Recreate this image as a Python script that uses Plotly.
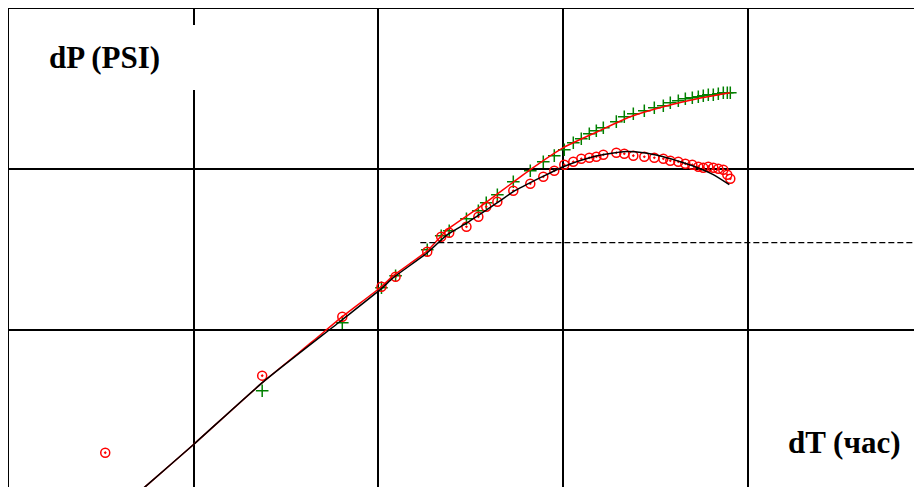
import plotly.graph_objects as go

# Observed times (hours)
t_obs = [0.00332, 0.0235, 0.0638, 0.104, 0.124, 0.184, 0.219, 0.242, 0.300, 0.348,
         0.384, 0.441, 0.538, 0.665, 0.782, 0.897, 1.016, 1.137, 1.256, 1.388,
         1.515, 1.653, 1.944, 2.147, 2.403, 2.756, 3.122, 3.493, 3.811, 4.211,
         4.596, 5.014, 5.403, 5.750, 6.120, 6.514, 6.934, 7.380, 7.757, 8.052]

# Red circles
dp_circles = [1.71, 5.17, 12.05, 18.54, 21.41, 30.65, 38.02, 40.27, 43.88, 50.67,
              58.49, 62.84, 73.59, 81.39, 89.99, 98.08, 106.9, 111.6, 116.5, 118.2,
              119.9, 123.4, 127.0, 125.2, 121.7, 119.9, 118.2, 116.5, 113.2, 111.6,
              108.5, 106.9, 103.9, 102.4, 103.9, 102.4, 100.9, 99.5, 92.6, 87.45]

# Green crosses
dp_crosses = [None, 4.165, 11.06, 18.28, 21.72, 31.54, 38.57, 41.44, 49.23, 55.23,
              61.94, 69.49, 83.76, 98.08, 111.6, 121.7, 132.6, 146.6, 155.3, 166.9,
              174.2, 181.8, 198.3, 213.0, 222.4, 232.2, 242.4, 249.5, 260.4, 268.0,
              275.8, 279.8, 283.8, 288.0, 292.1, 292.1, 296.3, 300.6, 300.6, 300.6]

# Black model curve
t_black = [0.004538, 0.005472, 0.009955, 0.02353, 0.06381, 0.1038, 0.1205, 0.1842,
           0.2363, 0.3032, 0.4408, 0.5381, 0.7535, 1.0037, 1.4592, 2.121, 2.7215,
           3.493, 4.317, 5.540, 6.514, 7.953]
dp_black = [0.8706, 1.0493, 1.918, 4.672, 11.54, 18.02, 21.10, 30.21,
            39.13, 46.48, 61.94, 72.54, 88.70, 103.9, 119.9, 128.8, 127.0,
            119.9, 111.6, 100.9, 92.6, 80.22]

# Red model curve
t_red = [0.004538, 0.005472, 0.009955, 0.02353, 0.0439, 0.06381, 0.1038, 0.1205,
         0.1842, 0.2363, 0.3566, 0.6651, 1.0037, 1.5339, 2.3143, 3.493, 5.3363, 8.052]
dp_red = [0.8706, 1.0493, 1.918, 4.672, 8.417, 12.05, 18.54, 21.72,
          31.09, 42.03, 58.49, 99.5, 136.5, 171.7, 213.0, 245.9, 275.8, 300.6]

# Dashed reference level
t_dash = [0.1688, 100]
dp_dash = [34.87, 34.87]

GREEN = "#008000"
RED = "#ff0000"
SERIF = "Times New Roman, Liberation Serif, DejaVu Serif, serif"

fig = go.Figure()

fig.add_trace(go.Scatter(x=t_obs, y=dp_crosses, mode="markers",
                         marker=dict(symbol="cross-thin-open", size=9, color=GREEN,
                                     line=dict(color=GREEN, width=1.5)),
                         showlegend=False))
fig.add_trace(go.Scatter(x=t_obs, y=dp_circles, mode="markers",
                         marker=dict(symbol="circle-open-dot", size=9, color=RED,
                                     line=dict(color=RED, width=1.5)),
                         showlegend=False))
fig.add_trace(go.Scatter(x=t_red, y=dp_red, mode="lines",
                         line=dict(color=RED, width=1.5, shape="spline", smoothing=0.6),
                         showlegend=False))
fig.add_trace(go.Scatter(x=t_black, y=dp_black, mode="lines",
                         line=dict(color="#000000", width=1.5, shape="spline", smoothing=0.6),
                         showlegend=False))
fig.add_trace(go.Scatter(x=t_dash, y=dp_dash, mode="lines",
                         line=dict(color="#000000", width=1.3, dash="6px,3px"),
                         showlegend=False))

fig.update_layout(
    width=922, height=487,
    margin=dict(l=1, t=1, r=0, b=0),
    paper_bgcolor="white", plot_bgcolor="white",
    font=dict(family=SERIF, color="black"),
    xaxis=dict(type="log", range=[-3, 1.9873], side="top", automargin=False,
               showline=True, linecolor="black", linewidth=2,
               showgrid=True, gridcolor="black", gridwidth=1.6,
               dtick=1, showticklabels=False, ticks="", zeroline=False),
    yaxis=dict(type="log", range=[-0.0309, 3.0], automargin=False,
               showline=True, linecolor="black", linewidth=2,
               showgrid=True, gridcolor="black", gridwidth=1.6,
               dtick=1, showticklabels=False, ticks="", zeroline=False),
    shapes=[dict(type="rect", xref="paper", yref="paper",
                 x0=0.0119, x1=0.2074, y0=0.8333, y1=0.9671,
                 fillcolor="white", line=dict(width=0), layer="above")],
    annotations=[
        dict(text="<b>dP (PSI)</b>", xref="paper", yref="paper",
             x=0.1042, y=0.8992, xanchor="center", yanchor="middle",
             showarrow=False, font=dict(family=SERIF, size=31, color="black")),
        dict(text="<b>dT (час)</b>", xref="paper", yref="paper",
             x=0.9077, y=0.107, xanchor="center", yanchor="middle",
             showarrow=False, font=dict(family=SERIF, size=31, color="black")),
    ],
)

fig.write_html("out.html")
